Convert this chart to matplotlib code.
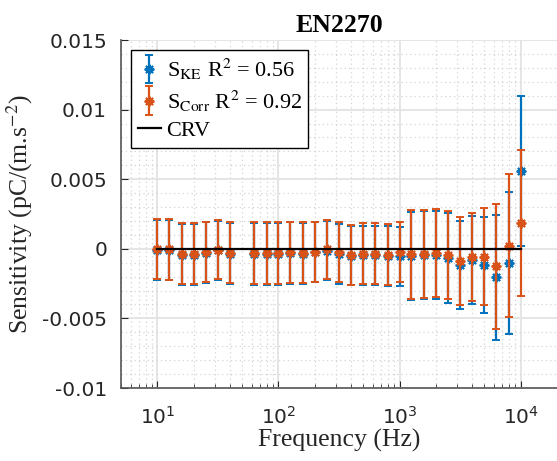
import matplotlib
matplotlib.use("Agg")
import matplotlib.pyplot as plt
from matplotlib.ticker import FixedLocator, NullFormatter
from matplotlib.font_manager import FontProperties
from matplotlib.container import ErrorbarContainer
from matplotlib.legend_handler import HandlerErrorbar

# third-octave frequencies (Hz)
freq = [10, 12.5, 16, 20, 25, 31.5, 40, 63, 80, 100, 125, 160, 200, 250, 315,
        400, 500, 630, 800, 1000, 1250, 1600, 2000, 2500, 3150, 4000, 5000,
        6300, 8000, 10000]

# S_KE : sensitivity and uncertainty
s_ke = [-0.00008, -0.00008, -0.00041, -0.00041, -0.00027, -0.00012, -0.00035,
        -0.00036, -0.00036, -0.00036, -0.00031, -0.00035, -0.00025, -0.00015,
        -0.00037, -0.00050, -0.00046, -0.00046, -0.00051, -0.00055, -0.00055,
        -0.00042, -0.00046, -0.00067, -0.00118, -0.00080, -0.00117, -0.00205,
        -0.00105, 0.00558]
err_ke = [0.00217, 0.00217, 0.00218, 0.00218, 0.00218, 0.00213, 0.00219,
          0.00223, 0.00223, 0.00223, 0.00220, 0.00220, 0.00215, 0.00212,
          0.00214, 0.00212, 0.00212, 0.00212, 0.00213, 0.00213, 0.00316,
          0.00317, 0.00316, 0.00321, 0.00317, 0.00317, 0.00347, 0.00447,
          0.00510, 0.00539]

# S_Corr : sensitivity and uncertainty
s_corr = [-0.00003, -0.00004, -0.00036, -0.00036, -0.00022, -0.00007, -0.00030,
          -0.00031, -0.00031, -0.00031, -0.00026, -0.00028, -0.00020, -0.00003,
          -0.00021, -0.00044, -0.00036, -0.00036, -0.00042, -0.00025, -0.00040,
          -0.00036, -0.00029, -0.00046, -0.00090, -0.00060, -0.00056, -0.00126,
          0.00022, 0.00186]
err_corr = [0.00216, 0.00217, 0.00218, 0.00218, 0.00218, 0.00213, 0.00219,
            0.00223, 0.00223, 0.00223, 0.00220, 0.00220, 0.00215, 0.00213,
            0.00215, 0.00216, 0.00218, 0.00218, 0.00217, 0.00217, 0.00318,
            0.00318, 0.00316, 0.00316, 0.00317, 0.00318, 0.00348, 0.00450,
            0.00515, 0.00524]

# reference (CRV)
crv_freq = [10, 10000]
crv_vals = [0.0, 0.0]

r2_ke = 0.56
r2_corr = 0.92

ytick_vals = [-0.01, -0.005, 0, 0.005, 0.01, 0.015]
ytick_labels = ["-0.01", "-0.005", "0", "0.005", "0.01", "0.015"]
xtick_vals = [10, 100, 1000, 10000]
xtick_labels = [r"$10^{1}$", r"$10^{2}$", r"$10^{3}$", r"$10^{4}$"]

blue = "#0072BD"
orange = "#D95319"
axcol = "#262626"
serif = "Liberation Serif"

fig = plt.figure(figsize=(5.57, 4.61), dpi=100)
ax = fig.add_axes([121 / 557, 73 / 461, 436 / 557, 348 / 461])

# asterisk marker like MATLAB '*'
ast = (8, 2, 0)
h_ke = ax.errorbar(freq, s_ke, yerr=err_ke, ls="none", marker=ast, ms=7,
                   mew=1.4, color=blue, elinewidth=1.6, capsize=3.2,
                   capthick=1.6, zorder=3)
h_corr = ax.errorbar(freq, s_corr, yerr=err_corr, ls="none", marker=ast, ms=7,
                     mew=1.4, color=orange, elinewidth=1.6, capsize=3.2,
                     capthick=1.6, zorder=4)
h_crv, = ax.plot(crv_freq, crv_vals, color="black", lw=1.6, zorder=5)

ax.set_xscale("log")
ax.set_xlim(5, 2e4)
ax.set_ylim(-0.01, 0.015)

ax.set_xticks(xtick_vals, labels=xtick_labels)
ax.xaxis.set_minor_locator(FixedLocator(
    [m * 10 ** e for e in range(0, 5) for m in range(2, 10)]))
ax.xaxis.set_minor_formatter(NullFormatter())
ax.set_yticks(ytick_vals, labels=ytick_labels)
ax.yaxis.set_minor_locator(FixedLocator(
    [i / 1000 for i in range(-10, 16)]))

ax.grid(True, which="major", color="#e3e3e3", lw=1.3, ls="-")
ax.grid(True, which="minor", color="#d4d4d4", lw=0.9, ls=(0, (1, 2.5)))
ax.set_axisbelow(True)

for s in ["top", "right"]:
    ax.spines[s].set_visible(False)
for s in ["left", "bottom"]:
    ax.spines[s].set_color("#555555")
    ax.spines[s].set_linewidth(1.2)

ax.tick_params(axis="both", which="both", direction="in", colors=axcol,
               labelcolor=axcol)
ax.tick_params(axis="y", which="major", length=5, pad=10, labelsize=14.5)
ax.tick_params(axis="y", which="minor", length=0)
ax.tick_params(axis="x", which="major", length=5, pad=13, labelsize=14.5)
ax.tick_params(axis="x", which="minor", length=3)

ax.set_xlabel("Frequency (Hz)", family=serif, fontsize=18.5, color=axcol,
              labelpad=1)
ax.set_ylabel(r"Sensitivity (pC/(m.s$^{-2}$)", family=serif, fontsize=18.5,
              color=axcol, labelpad=5, math_fontfamily="stix")
ax.set_title("EN2270", family=serif, fontsize=18.5, fontweight="bold",
             pad=6)

leg_font = FontProperties(family=serif, size=16, math_fontfamily="stix")
leg = ax.legend([h_ke, h_corr, h_crv],
                [r"S$_{\mathrm{KE}}$ R$^{2}$ = %.2f" % r2_ke,
                 r"S$_{\mathrm{Corr}}$ R$^{2}$ = %.2f" % r2_corr,
                 "CRV"],
                loc="upper left", bbox_to_anchor=(0.023, 0.971),
                borderaxespad=0, prop=leg_font, fancybox=False,
                framealpha=1, edgecolor="black", handlelength=1.05,
                handletextpad=0.25, labelspacing=0.3, borderpad=0.3,
                handler_map={ErrorbarContainer: HandlerErrorbar(
                    xerr_size=0.3, yerr_size=0.65)})
leg.get_frame().set_linewidth(1.0)

fig.savefig("out.png", dpi=100)
